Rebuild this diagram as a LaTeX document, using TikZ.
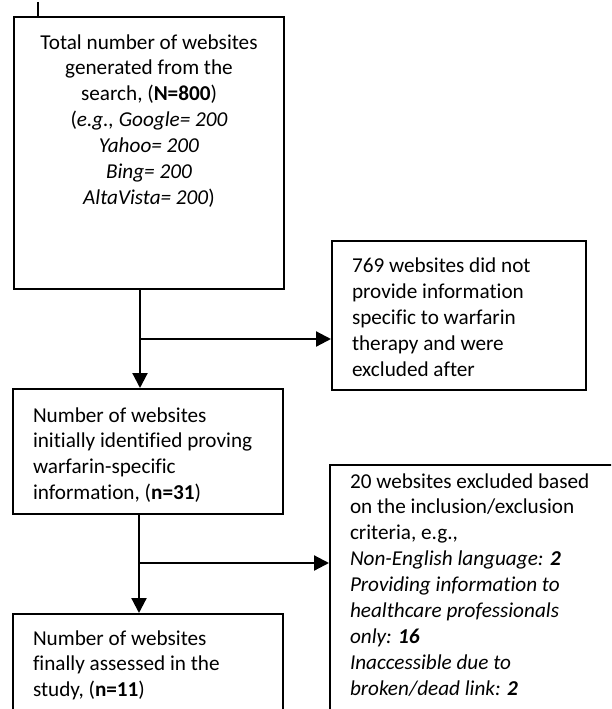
\documentclass[tikz,border=0pt]{standalone}
\usepackage{fontspec}
\setmainfont{Carlito}[Ligatures={NoCommon}]
\usetikzlibrary{arrows.meta}
\newcommand{\bxl}[4]{\begin{minipage}[c][#2][t]{#1}\raggedright\leftskip=20pt\relax\leavevmode\rule{0pt}{#3}#4\end{minipage}}
\newcommand{\bxc}[4]{\begin{minipage}[c][#2][t]{#1}\centering\leavevmode\rule{0pt}{#3}#4\end{minipage}}
\begin{document}
\begin{tikzpicture}[x=1pt,y=-1pt,
  every node/.style={font=\fontsize{21.2}{25.9}\selectfont},
  box/.style={draw, line width=2pt, inner sep=0pt, anchor=north west},
  arr/.style={line width=2.2pt, -{Triangle[length=15pt,width=15pt]}},
  stub/.style={line width=1.6pt}]
\useasboundingbox (0,0) rectangle (611,709);
\clip (0,0) rectangle (611,709);
\node[box] (b1) at (13,16) {\bxc{270pt}{272pt}{32pt}{Total number of websites\\ generated from the\\ search, (\textbf{N=800})\\ (\textit{e.g., Google= 200}\\ \textit{Yahoo= 200}\\ \textit{Bing= 200}\\ \textit{AltaVista= 200})}};
\node[box] (b2) at (331,240) {\bxl{254pt}{149pt}{31.7pt}{769 websites did not\\ provide information\\ specific to warfarin\\ therapy and were\\ excluded after}};
\node[box] (b3) at (12,388) {\bxl{270pt}{125pt}{33pt}{Number of websites\\ initially identified proving\\ warfarin-specific\\ information, (\textbf{n=31})}};
\node[box] (b4) at (329,464) {\bxl{300pt}{260pt}{23pt}{20 websites excluded based\\ on the inclusion/exclusion\\ criteria, e.g.,\\ \textit{Non-English language: \textbf{2}}\\ \textit{Providing information to}\\ \textit{healthcare professionals}\\ \textit{only: \textbf{16}}\\ \textit{Inaccessible due to}\\ \textit{broken/dead link: \textbf{2}}}};
\node[box] (b5) at (12,613) {\bxl{270pt}{120pt}{31pt}{Number of websites\\ finally assessed in the\\ study, (\textbf{n=11})}};
\coordinate (s0) at (38,2);
\draw[stub] (s0) -- (s0 |- b1.north);
\coordinate (a1) at (140,339);
\draw[arr] (a1 |- b1.south) -- (a1 |- b3.north);
\draw[arr] (a1) -- (a1 -| b2.west);
\coordinate (a2) at (139,563);
\draw[arr] (a2 |- b3.south) -- (a2 |- b5.north);
\draw[arr] (a2) -- (a2 -| b4.west);
\end{tikzpicture}
\end{document}
